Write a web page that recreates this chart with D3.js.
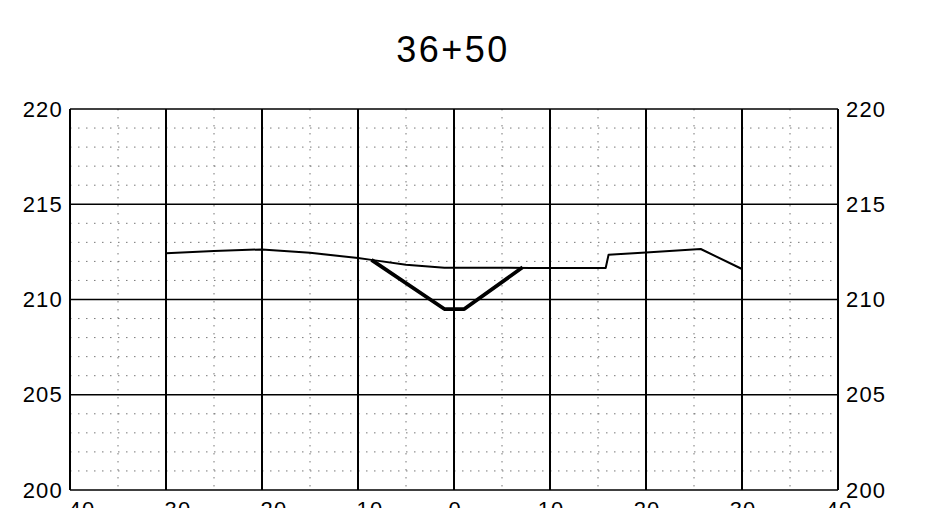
<!DOCTYPE html>
<html>
<head>
<meta charset="utf-8">
<script src="https://cdn.jsdelivr.net/npm/d3@7"></script>
<style>
  html, body { margin: 0; padding: 0; background: #fff; }
  svg { display: block; }
</style>
</head>
<body>
<svg id="chart" width="935" height="508"></svg>
<script>
// ---- data ----
const title = "36+50";
const xTicks = [-40, -30, -20, -10, 0, 10, 20, 30, 40];
const xMinorTicks = [-35, -25, -15, -5, 5, 15, 25, 35];
const yTicks = [200, 205, 210, 215, 220];
const yMinorTicks = [201, 202, 203, 204, 206, 207, 208, 209, 211, 212, 213, 214, 216, 217, 218, 219];
// existing ground profile (offset, elevation)
const groundOffset = [-30, -25, -20, -15, -10, -8.6, -5, -1, 8, 15.8, 16.1, 20, 25.7, 30];
const groundElev   = [212.43, 212.55, 212.63, 212.45, 212.18, 212.08, 211.83, 211.67, 211.66, 211.65, 212.35, 212.47, 212.65, 211.6];
// proposed ditch section
const ditchOffset = [-8.6, -1.0, 1.07, 7.15];
const ditchElev   = [212.08, 209.5, 209.5, 211.69];

(function () {
// ---- layout ----
const svg = d3.select("#chart");
const pLeft = 70, pRight = 838, pTop = 109, pBottom = 490;
const x = d3.scaleLinear().domain([-40, 40]).range([pLeft, pRight]);
const y = d3.scaleLinear().domain([200, 220]).range([pBottom, pTop]);

// title
svg.append("text")
  .attr("x", 453).attr("y", 62)
  .attr("text-anchor", "middle")
  .style("font-family", "'Liberation Sans', Arial, sans-serif")
  .style("font-size", "36px")
  .style("letter-spacing", "2.5px")
  .text(title);

// minor grid (dotted)
const g = svg.append("g");
g.selectAll("line.xminor").data(xMinorTicks).join("line").attr("class", "xminor")
  .attr("x1", d => x(d)).attr("x2", d => x(d))
  .attr("y1", pTop).attr("y2", pBottom)
  .attr("stroke", "#777").attr("stroke-width", 1).attr("stroke-dasharray", "1.5,6.5");
g.selectAll("line.yminor").data(yMinorTicks).join("line").attr("class", "yminor")
  .attr("x1", pLeft).attr("x2", pRight)
  .attr("y1", d => y(d)).attr("y2", d => y(d))
  .attr("stroke", "#777").attr("stroke-width", 1).attr("stroke-dasharray", "1.5,6.5");

// major grid
g.selectAll("line.xmajor").data(xTicks).join("line").attr("class", "xmajor")
  .attr("x1", d => x(d)).attr("x2", d => x(d))
  .attr("y1", pTop).attr("y2", pBottom)
  .attr("stroke", "#000").attr("stroke-width", 2);
g.selectAll("line.ymajor").data(yTicks).join("line").attr("class", "ymajor")
  .attr("x1", pLeft).attr("x2", pRight)
  .attr("y1", d => y(d)).attr("y2", d => y(d))
  .attr("stroke", "#000").attr("stroke-width", 1.6);

// axes labels
const fontFam = "'Liberation Sans', Arial, sans-serif";
const axL = d3.axisLeft(y).tickValues(yTicks).tickSize(0).tickPadding(7);
const axR = d3.axisRight(y).tickValues(yTicks).tickSize(0).tickPadding(8);
const gl = svg.append("g").attr("transform", `translate(${pLeft},0)`).call(axL);
const gr = svg.append("g").attr("transform", `translate(${pRight},0)`).call(axR);
[gl, gr].forEach(a => {
  a.select(".domain").remove();
  a.selectAll("text").style("font-family", fontFam).style("font-size", "22px")
    .style("letter-spacing", "1.2px").attr("fill", "#000");
});

const axB = d3.axisBottom(x).tickValues(xTicks).tickSize(0).tickPadding(11)
  .tickFormat(d => d < 0 ? "-" + Math.abs(d) : String(d));
const gb = svg.append("g").attr("transform", `translate(0,${pBottom})`).call(axB);
gb.select(".domain").remove();
gb.selectAll("text")
  .style("font-family", fontFam).style("font-size", "22px")
  .style("letter-spacing", "1.2px").attr("fill", "#000")
  .attr("text-anchor", d => d < 0 ? "end" : "middle")
  .attr("dx", d => d < 0 ? 25 : 0.6);

// lines
const line = d3.line().x(d => x(d[0])).y(d => y(d[1]));
svg.append("path")
  .datum(d3.zip(groundOffset, groundElev))
  .attr("d", line).attr("fill", "none")
  .attr("stroke", "#000").attr("stroke-width", 2).attr("stroke-linejoin", "round");
svg.append("path")
  .datum(d3.zip(ditchOffset, ditchElev))
  .attr("d", line).attr("fill", "none")
  .attr("stroke", "#000").attr("stroke-width", 3.8).attr("stroke-linejoin", "round");
})();
</script>
</body>
</html>
